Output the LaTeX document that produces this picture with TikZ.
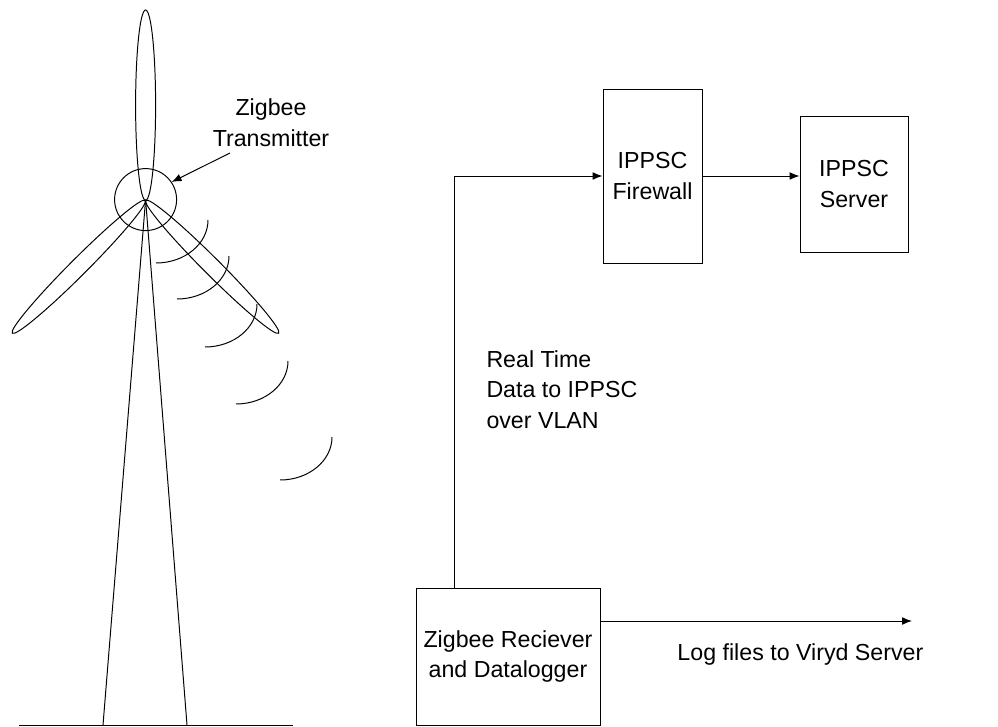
\documentclass[tikz,border=0pt]{standalone}
\usepackage{fontspec}
\setmainfont{Liberation Sans}
\usepackage{tikz}
\usetikzlibrary{arrows.meta,shapes,calc,positioning}

\tikzset{
	box/.style={draw, rectangle, align=center, inner sep=0pt},
	lbl/.style={inner sep=0pt, align=center},
	arr/.style={-{Latex[length=7pt,width=5.5pt]}}
}

\begin{document}
\begin{tikzpicture} [line width=0.7pt, font=\fontsize{16.5}{21.5}\selectfont]
		
		\useasboundingbox (0,0) rectangle (24.95,18.15);
		
		\begin{scope}			% wind turbine
		
		\node (hub) [circle, draw, minimum size=1.55cm, inner sep=0pt] at (3.64,13.16) {};
		
		\draw (3.64,15.52) ellipse (0.25 and 2.38);
		
		\draw [rotate around={45:(1.969,11.48)}] (1.969,11.48) ellipse (2.35 and 0.21);
		
		\draw [rotate around={-45:(5.306,11.48)}] (5.306,11.48) ellipse (2.35 and 0.21);
		
		\coordinate (foot_L) at (2.575,0.025);
		
		\coordinate (foot_R) at (4.675,0.025);
		
		\draw (hub.center) -- (foot_L);
		
		\draw (hub.center) -- (foot_R);
		
		\draw (0.475,0.025) -- (7.325,0.025);
		
		\foreach \x/\y in {5.2/12.65, 5.725/11.75, 6.425/10.55, 7.2/9.125, 8.3/7.225}
			\draw (\x,\y) arc [start angle=0, end angle=-90, x radius=1.3, y radius=1.075];
		
		\node (tx_label) [lbl] at (6.775,15.08) {Zigbee\\Transmitter};
		
		\coordinate (tx_tail) at (5.75,14.325);
		
		\draw [arr] (tx_tail) -- (hub.34);
		
		\end{scope}
		
		
		\node (receiver) [box, minimum width=4.6cm, minimum height=3.425cm] at (12.7,1.7375) {Zigbee Reciever\\and Datalogger};
		
		\node (firewall) [box, minimum width=2.475cm, minimum height=4.35cm] at (16.3125,13.75) {IPPSC\\Firewall};
		
		\node (server) [box, minimum width=2.7cm, minimum height=3.4cm] at (21.35,13.55) {IPPSC\\Server};
		
		\node (vlan_label) [lbl, align=left, anchor=west] at (12.15,8.41) {Real Time\\Data to IPPSC\\over VLAN};
		
		\coordinate (viryd) at (22.8,2.625);
		
		\node (log_label) [lbl, anchor=base] at (20.01,1.65) {Log files to Viryd Server};
		
		
		\draw [arr] ([xshift=0.975cm]receiver.north west) |- (firewall.west);
		
		\draw [arr] (firewall.east) -- (firewall.east -| server.west);
		
		\draw [arr] (receiver.east |- viryd) -- (viryd);
		
		
		\end{tikzpicture}
\end{document}
